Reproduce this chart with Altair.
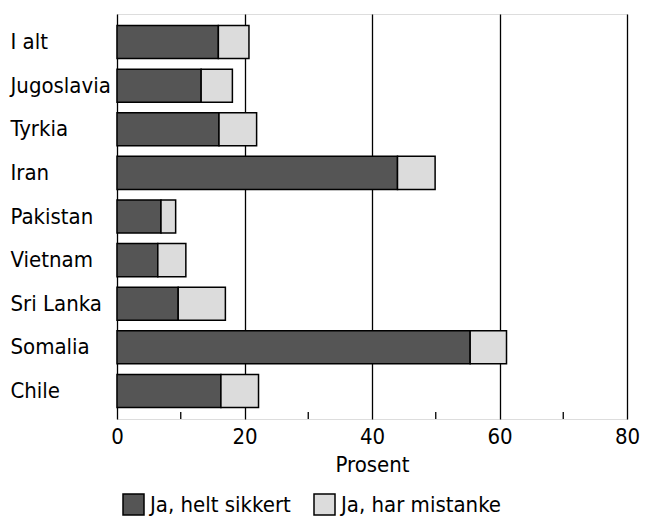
import altair as alt
import pandas as pd

categories = ["I alt", "Jugoslavia", "Tyrkia", "Iran", "Pakistan", "Vietnam", "Sri Lanka", "Somalia", "Chile"]
helt_sikkert = [15.9, 13.2, 16.0, 44.0, 6.9, 6.4, 9.6, 55.4, 16.3]
har_mistanke = [4.8, 4.9, 5.9, 5.9, 2.3, 4.4, 7.4, 5.7, 5.9]
series = ["Ja, helt sikkert", "Ja, har mistanke"]
colors = ["#555555", "#dcdcdc"]
x_ticks = [0, 20, 40, 60, 80]
minor_ticks = [10, 30, 50, 70]

rows = []
for c, a, b in zip(categories, helt_sikkert, har_mistanke):
    rows.append({"land": c, "serie": series[0], "verdi": a, "ord": 0})
    rows.append({"land": c, "serie": series[1], "verdi": b, "ord": 1})
df = pd.DataFrame(rows)
minor_df = pd.DataFrame({"x": minor_ticks})

FONT = "Liberation Sans Narrow, DejaVu Sans Condensed, Liberation Sans, sans-serif"

W, H = 510, 405
xscale = alt.Scale(domain=[0, 80], nice=False, zero=True)

bars = alt.Chart(df).mark_bar(stroke="black", strokeWidth=1.5, opacity=1).encode(
    x=alt.X("verdi:Q", stack="zero", scale=xscale,
            axis=alt.Axis(values=x_ticks, title="Prosent", grid=True, gridColor="black",
                          gridWidth=1.3, gridOpacity=1, ticks=False, domain=False,
                          labelFontSize=22, labelFont=FONT, labelColor="black",
                          labelPadding=7, titleFont=FONT, titleFontSize=22,
                          titleFontWeight="normal", titleColor="black", titlePadding=7,
                          labelFlush=False)),
    y=alt.Y("land:N", sort=categories,
            scale=alt.Scale(paddingInner=0.243, paddingOuter=0.264),
            axis=alt.Axis(title=None, ticks=False, domain=False, labelAlign="left",
                          labelPadding=107, labelFontSize=22, labelFont=FONT,
                          labelColor="black", labelLimit=0)),
    color=alt.Color("serie:N", sort=series,
                    scale=alt.Scale(domain=series, range=colors),
                    legend=alt.Legend(title=None, orient="none", legendX=5, legendY=479,
                                      direction="horizontal", symbolType="square",
                                      symbolSize=441, symbolStrokeColor="black",
                                      symbolStrokeWidth=1.5, symbolOpacity=1,
                                      labelFont=FONT, labelFontSize=22, labelColor="black",
                                      labelOffset=5, columnPadding=20, padding=0,
                                      labelLimit=0)),
    order=alt.Order("ord:Q"),
)

minor = alt.Chart(minor_df).mark_rule(color="black", strokeWidth=1.3).encode(
    x=alt.X("x:Q", scale=xscale),
    y=alt.value(H),
    y2=alt.value(H - 7),
)

chart = alt.layer(bars, minor).properties(
    width=W, height=H,
    autosize=alt.AutoSizeParams(type="none"),
    padding={"left": 109, "top": 6, "right": 13, "bottom": 103},
).configure_view(stroke="black", strokeWidth=2).configure(background="white")

chart.save("out.html", embed_options={"renderer": "svg", "actions": False})
